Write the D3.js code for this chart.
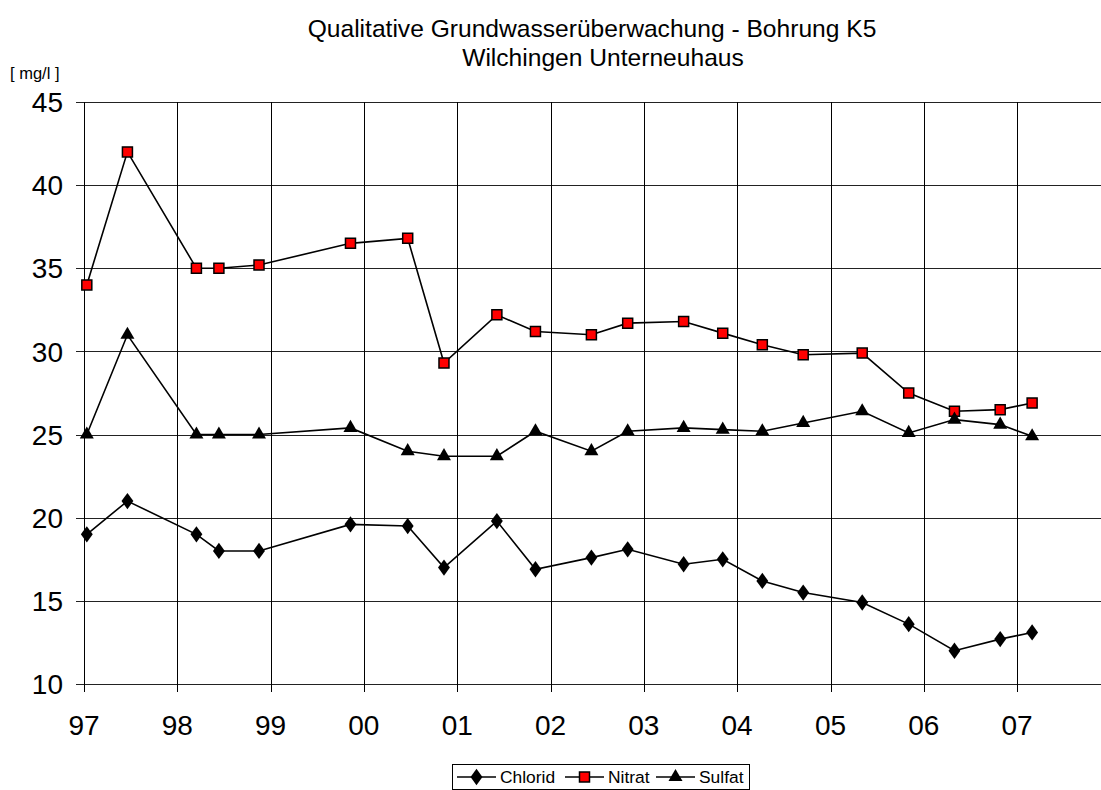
<!DOCTYPE html>
<html>
<head>
<meta charset="utf-8">
<script src="https://cdn.jsdelivr.net/npm/d3@7"></script>
<style>
  body { margin: 0; background: #fff; }
  svg { display: block; font-family: 'Liberation Sans', Arial, sans-serif; }
</style>
</head>
<body>
<svg id="chart" width="1101" height="790"></svg>
<script>
// Probenahmedaten (Datum der Messung)
const dates = [
  '1997-01-12', '1997-06-20', '1998-03-17', '1998-06-13', '1998-11-17',
  '1999-11-10', '2000-06-21', '2000-11-10', '2001-06-05', '2001-11-03',
  '2002-06-10', '2002-10-30', '2003-06-06', '2003-11-06', '2004-04-09',
  '2004-09-16', '2005-05-05', '2005-11-03', '2006-05-01', '2006-10-27',
  '2007-03-01'
]

const chlorid = [19.0, 21.0, 19.0, 18.0, 18.0, 19.6, 19.5, 17.0, 19.8, 16.9,
  17.6, 18.1, 17.2, 17.5, 16.2, 15.5, 14.9, 13.6, 12.0, 12.7, 13.1]
const nitrat = [34.0, 42.0, 35.0, 35.0, 35.2, 36.5, 36.8, 29.3, 32.2, 31.2,
  31.0, 31.7, 31.8, 31.1, 30.4, 29.8, 29.9, 27.5, 26.4, 26.5, 26.9]
const sulfat = [25.0, 31.0, 25.0, 25.0, 25.0, 25.4, 24.0, 23.7, 23.7, 25.2,
  24.0, 25.2, 25.4, 25.3, 25.2, 25.7, 26.4, 25.1, 25.9, 25.6, 24.9]

const yTicks = [10, 15, 20, 25, 30, 35, 40, 45]
const seriesNames = ['Chlorid', 'Nitrat', 'Sulfat']

const parse = d3.timeParse('%Y-%m-%d')
const series = [
  { name: seriesNames[0], values: chlorid },
  { name: seriesNames[1], values: nitrat },
  { name: seriesNames[2], values: sulfat }
]

const svg = d3.select('#chart')
const plotLeft = 84
const plotTop = 102
const plotBottom = 684
const yearWidth = 93.3

const x = d3.scaleTime()
  .domain([new Date(1997, 0, 1), new Date(2008, 0, 1)])
  .range([plotLeft, plotLeft + 11 * yearWidth])
const y = d3.scaleLinear()
  .domain([10, 45])
  .range([plotBottom, plotTop])

const years = d3.range(1997, 2009).map(function (yr) { return new Date(yr, 0, 1) })

// title
const title = svg.append('text')
  .attr('y', 37)
  .attr('text-anchor', 'middle')
  .style('font-size', '24.6px')
title.append('tspan').attr('x', 592).text('Qualitative Grundwasserüberwachung - Bohrung K5')
title.append('tspan').attr('x', 603).attr('dy', 29).text('Wilchingen Unterneuhaus')

svg.append('text')
  .attr('x', 10)
  .attr('y', 79)
  .style('font-size', '16.5px')
  .text('[ mg/l ]')

// gridlines
svg.append('g')
  .selectAll('line')
  .data(yTicks)
  .enter()
  .append('line')
  .attr('x1', plotLeft - 8)
  .attr('x2', 1101)
  .attr('y1', function (d) { return Math.round(y(d)) + 0.5 })
  .attr('y2', function (d) { return Math.round(y(d)) + 0.5 })
  .attr('stroke', '#222')
  .attr('stroke-width', 1)

svg.append('g')
  .selectAll('line')
  .data(years)
  .enter()
  .append('line')
  .attr('x1', function (d) { return Math.round(x(d)) + 0.5 })
  .attr('x2', function (d) { return Math.round(x(d)) + 0.5 })
  .attr('y1', plotTop)
  .attr('y2', plotBottom + 8)
  .attr('stroke', '#000')
  .attr('stroke-width', 1)

// tick labels
svg.append('g')
  .selectAll('text')
  .data(yTicks)
  .enter()
  .append('text')
  .attr('x', 63)
  .attr('y', function (d) { return y(d) })
  .attr('dy', '0.36em')
  .attr('text-anchor', 'end')
  .style('font-size', '28px')
  .text(function (d) { return d })

svg.append('g')
  .selectAll('text')
  .data(years.slice(0, 11))
  .enter()
  .append('text')
  .attr('x', function (d) { return x(d) })
  .attr('y', 735)
  .attr('text-anchor', 'middle')
  .style('font-size', '28px')
  .text(d3.timeFormat('%y'))

// lines and markers
const line = d3.line()
  .x(function (d) { return x(d.date) })
  .y(function (d) { return y(d.value) })

series.forEach(function (s) {
  const pts = dates.map(function (d, i) { return { date: parse(d), value: s.values[i] } })
  svg.append('path')
    .datum(pts)
    .attr('d', line)
    .attr('fill', 'none')
    .attr('stroke', '#000')
    .attr('stroke-width', 1.6)
})

function drawMarker (g, s) {
  if (s.name === 'Nitrat') {
    g.append('path')
      .attr('d', d3.symbol().type(d3.symbolSquare).size(100))
      .attr('fill', '#ff0000')
      .attr('stroke', '#000')
      .attr('stroke-width', 1.5)
  } else if (s.name === 'Chlorid') {
    g.append('path')
      .attr('d', d3.symbol().type(d3.symbolDiamond).size(85))
      .attr('transform', 'scale(1.2,0.95)')
      .attr('fill', '#000')
  } else {
    g.append('path')
      .attr('d', d3.symbol().type(d3.symbolTriangle).size(85))
      .attr('fill', '#000')
  }
}

series.forEach(function (s) {
  dates.forEach(function (d, i) {
    const g = svg.append('g')
      .attr('transform', 'translate(' + x(parse(d)) + ',' + y(s.values[i]) + ')')
    drawMarker(g, s)
  })
})

// legend
const legend = svg.append('g').attr('class', 'legend')
legend.append('rect')
  .attr('x', 452.5)
  .attr('y', 764.5)
  .attr('width', 297)
  .attr('height', 25)
  .attr('fill', '#fff')
  .attr('stroke', '#000')
  .attr('stroke-width', 1)

const legendX = [457, 565, 656]
const legendItems = legend.selectAll('.item')
  .data(series)
  .enter()
  .append('g')
  .attr('class', 'item')
  .attr('transform', function (d, i) { return 'translate(' + legendX[i] + ',777)' })

legendItems.append('line')
  .attr('x1', 0)
  .attr('x2', 39)
  .attr('stroke', '#000')
  .attr('stroke-width', 1.6)

legendItems.each(function (d) {
  const g = d3.select(this).append('g').attr('transform', 'translate(19.5,0)')
  drawMarker(g, d)
})

legendItems.append('text')
  .attr('x', 43)
  .attr('y', 0)
  .attr('dy', '0.36em')
  .style('font-size', '17.4px')
  .text(function (d) { return d.name })
</script>
</body>
</html>
